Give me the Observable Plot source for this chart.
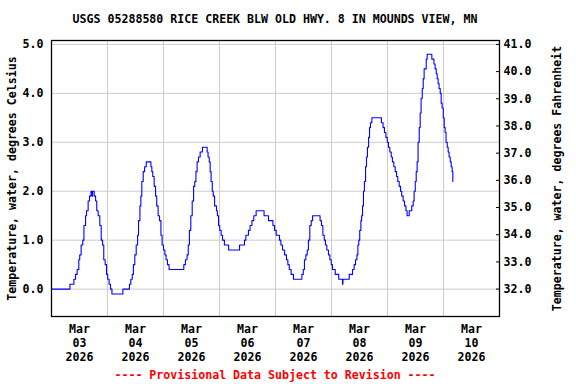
<!DOCTYPE html>
<html><head><meta charset="utf-8">
<script src="https://cdn.jsdelivr.net/npm/d3@7"></script>
<script src="https://cdn.jsdelivr.net/npm/@observablehq/plot@0.6"></script>
<style>
body{margin:0;background:#fff;}
#wrap{position:relative;width:576px;height:384px;overflow:hidden;font-family:"DejaVu Sans Mono",monospace;font-weight:bold;font-size:11.6px;}
#title{position:absolute;left:0;top:12px;width:550px;text-align:center;line-height:14px;color:#000;}
#chart{position:absolute;left:0;top:30px;}
#caption{position:absolute;left:0;top:368px;width:550px;text-align:center;line-height:14px;color:#ff0000;}
</style></head>
<body>
<div id="wrap">
<div id="title">USGS 05288580 RICE CREEK BLW OLD HWY. 8 IN MOUNDS VIEW, MN</div>
<div id="chart"></div>
<div id="caption">---- Provisional Data Subject to Revision ----</div>
</div>
<script>
// hours after 2026-03-03 00:00 and water temperature (deg C)
const hours = [0,7.9,9.6,10.3,11.0,11.7,12.1,12.7,13.4,13.9,14.6,15.0,15.7,16.3,16.9,17.4,17.6,18.3,18.9,19.4,20.0,20.7,21.3,21.9,22.4,23.0,23.6,24.1,24.7,25.3,25.9,
30.6,33.4,34.0,34.6,35.1,35.7,36.3,36.9,37.3,37.9,38.3,38.7,39.3,39.9,40.6,42.6,43.0,43.4,44.0,44.6,45.1,45.7,46.3,46.9,47.4,48.0,48.6,49.1,49.7,50.4,
56.7,57.4,58.1,58.6,59.1,59.7,60.3,60.9,61.4,61.9,62.4,63.0,63.7,64.7,66.7,67.1,67.6,68.0,68.4,68.9,69.3,69.9,70.7,71.1,71.6,72.1,72.7,73.3,74.1,75.9,
80.6,82.7,83.3,84.4,85.1,85.9,86.7,87.7,91.1,93.0,94.9,95.6,96.3,97.7,98.3,99.0,99.9,100.7,101.3,101.9,102.7,103.7,
107.3,107.9,108.4,109.0,109.6,110.1,110.7,111.3,111.9,115.1,115.7,116.3,116.9,117.4,118.0,118.7,119.3,119.9,120.4,121.6,123.1,124.7,124.9,
127.6,129.0,129.7,130.3,130.9,131.3,131.7,132.1,132.6,132.9,133.3,133.7,134.1,134.6,135.0,135.4,135.9,136.3,136.7,137.3,
141.4,142.1,142.7,143.3,143.9,144.4,145.0,145.6,146.1,146.7,147.3,147.9,148.4,149.0,149.6,150.1,150.7,151.3,151.9,152.4,
153.3,154.4,155.0,155.4,155.9,156.3,156.7,157.1,157.6,158.0,158.4,158.9,159.3,159.7,160.6,161.0,
163.0,163.9,164.4,164.9,165.3,165.7,166.1,166.6,167.0,167.4,167.9,168.3,168.7,169.1,169.6,170.0,170.4,170.9,171.3,171.7,172.0];
const tempC = [0.0,0.1,0.2,0.3,0.4,0.6,0.7,0.9,1.0,1.3,1.5,1.6,1.8,1.9,2.0,1.9,2.0,1.9,1.8,1.6,1.5,1.3,1.0,0.9,0.6,0.5,0.3,0.2,0.1,0.0,-0.1,
0.0,0.1,0.2,0.3,0.5,0.7,0.9,1.1,1.4,1.7,1.9,2.2,2.4,2.5,2.6,2.5,2.4,2.3,2.1,1.9,1.7,1.5,1.4,1.1,0.9,0.8,0.7,0.6,0.5,0.4,
0.5,0.6,0.7,0.9,1.2,1.5,1.8,2.1,2.2,2.4,2.6,2.7,2.8,2.9,2.8,2.7,2.6,2.4,2.2,2.0,1.9,1.7,1.6,1.5,1.3,1.2,1.1,1.0,0.9,0.8,
0.9,1.0,1.1,1.2,1.3,1.4,1.5,1.6,1.5,1.4,1.3,1.2,1.1,1.0,0.9,0.8,0.7,0.6,0.5,0.4,0.3,0.2,
0.3,0.4,0.6,0.7,0.8,1.0,1.3,1.4,1.5,1.4,1.3,1.1,1.0,0.9,0.8,0.7,0.6,0.5,0.4,0.3,0.2,0.1,0.2,
0.3,0.4,0.5,0.6,0.7,0.9,1.0,1.2,1.4,1.5,1.7,2.0,2.2,2.5,2.7,2.9,3.1,3.3,3.4,3.5,
3.4,3.3,3.2,3.1,3.0,2.9,2.8,2.7,2.6,2.5,2.4,2.3,2.2,2.1,2.0,1.9,1.8,1.7,1.6,1.5,
1.6,1.7,1.8,2.0,2.2,2.4,2.6,3.0,3.3,3.6,3.9,4.1,4.3,4.5,4.7,4.8,
4.7,4.6,4.5,4.4,4.3,4.2,4.1,4.0,3.8,3.7,3.5,3.3,3.2,3.0,2.9,2.8,2.7,2.6,2.5,2.4,2.2];

const celsiusTicks = [0,1,2,3,4,5];
const fahrenheitTicks = [32,33,34,35,36,37,38,39,40,41];
const dayStarts = ["2026-03-03","2026-03-04","2026-03-05","2026-03-06","2026-03-07","2026-03-08","2026-03-09","2026-03-10","2026-03-11"];
const dayLabels = ["Mar\n03\n2026","Mar\n04\n2026","Mar\n05\n2026","Mar\n06\n2026","Mar\n07\n2026","Mar\n08\n2026","Mar\n09\n2026","Mar\n10\n2026"];

const t0 = Date.UTC(2026, 2, 3);
const data = hours.map((h, i) => ({date: new Date(t0 + h * 3600e3), v: tempC[i]}));
const midnights = dayStarts.map(s => new Date(s + "T00:00:00Z"));
const noons = dayLabels.map((l, i) => new Date(midnights[i].getTime() + 12 * 3600e3));
const labelOf = new Map(noons.map((d, i) => [d.getTime(), dayLabels[i]]));
const fC = fahrenheitTicks.map(f => (f - 32) * 5 / 9);
const fLabel = new Map(fC.map((c, i) => [c, fahrenheitTicks[i].toFixed(1)]));

const chart = Plot.plot({
  width: 576, height: 336,
  marginLeft: 51, marginRight: 77, marginTop: 10, marginBottom: 50,
  style: {fontFamily: "DejaVu Sans Mono, monospace", fontSize: "11.6px", fontWeight: "bold", background: "white", color: "black"},
  x: {type: "utc", domain: [midnights[0], midnights[8]]},
  y: {domain: [-0.56, 5.08]},
  marks: [
    Plot.gridY(celsiusTicks, {stroke: "#cccccc", strokeOpacity: 1, strokeWidth: 1}),
    Plot.gridX(midnights.slice(1, 8), {stroke: "#cccccc", strokeOpacity: 1, strokeWidth: 1}),
    Plot.axisY(celsiusTicks, {anchor: "left", tickSize: 0, tickPadding: 8, tickFormat: d => d.toFixed(1),
      label: "Temperature, water, degrees Celsius", labelAnchor: "center", labelArrow: "none", labelOffset: 44}),
    Plot.axisY(fC, {anchor: "right", tickSize: 0, tickPadding: 4, tickFormat: d => fLabel.get(d),
      label: "Temperature, water, degrees Fahrenheit", labelAnchor: "center", labelArrow: "none", labelOffset: 61}),
    Plot.tickY(fC, {y: d => d, stroke: "black", insetLeft: 445}),
    Plot.axisX(noons, {anchor: "bottom", tickSize: 0, tickPadding: 7, lineHeight: 1.2, tickFormat: d => labelOf.get(d.getTime()), label: null}),
    Plot.line(data, {x: "date", y: "v", stroke: "#0000ff", strokeWidth: 1.1, curve: "step-after"}),
    Plot.frame({stroke: "black", strokeWidth: 1.3})
  ]
});
document.getElementById("chart").appendChild(chart);
</script>
</body></html>
